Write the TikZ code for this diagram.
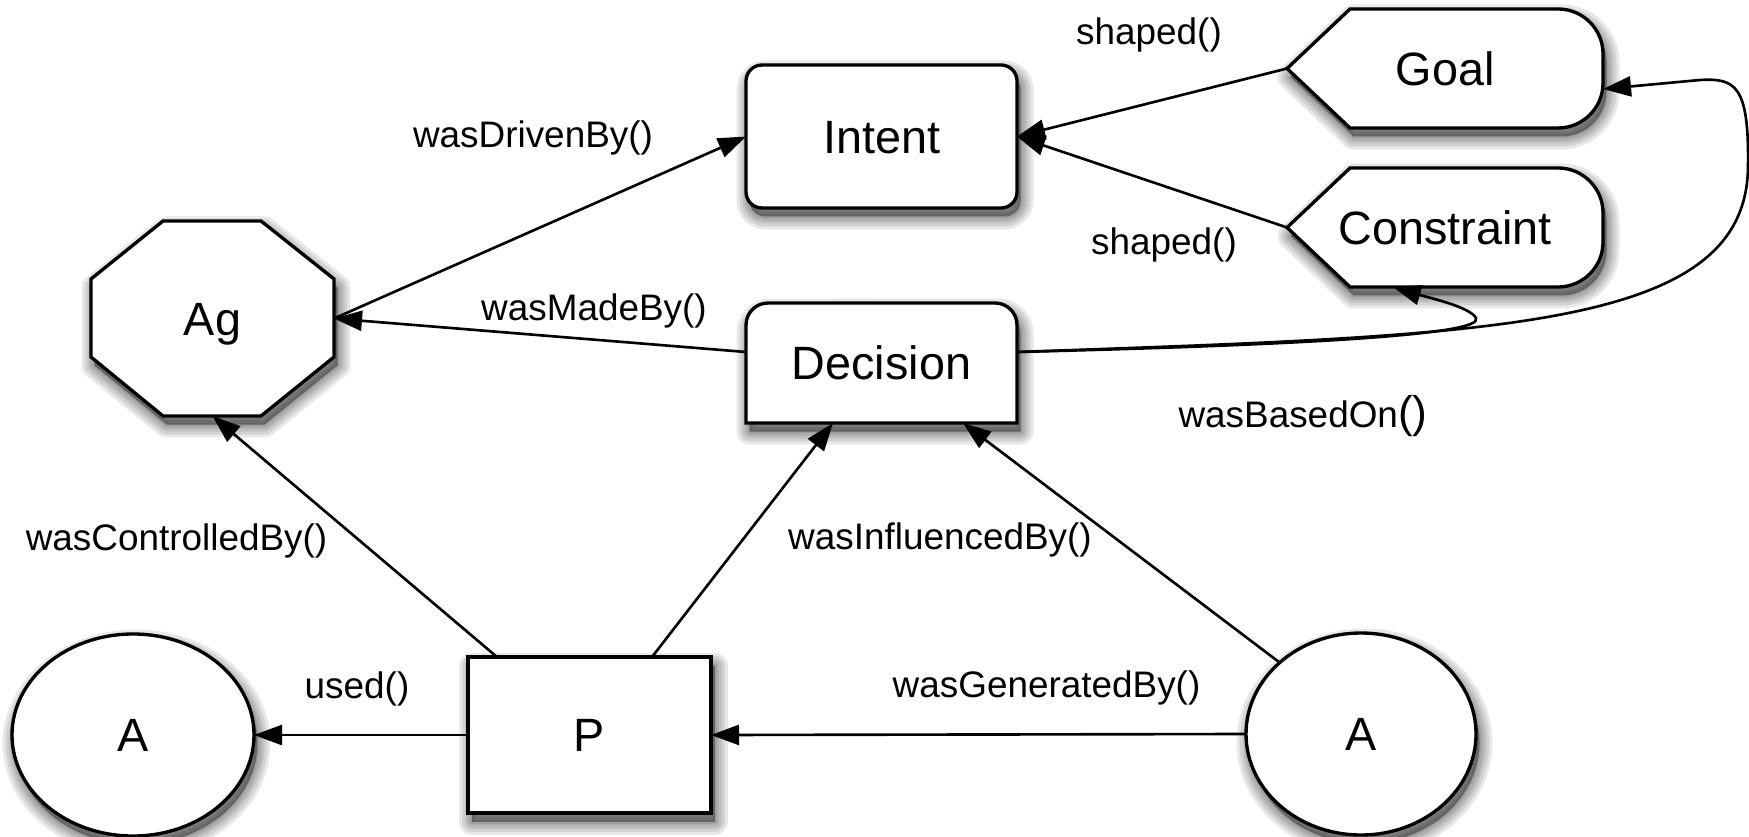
\documentclass[tikz,border=0pt]{standalone}
\usepackage{fontspec}
\setmainfont{Liberation Sans}
\usetikzlibrary{arrows.meta,shapes.geometric}

\begin{document}
\begin{tikzpicture}[x=0.1mm,y=0.1mm,
  % one layer of the soft drop shadow
  shadowlayer/.style={preaction={draw=black, fill=black, opacity=0.09,
    line width=#1, line join=round,
    transform canvas={xshift=0.35mm, yshift=-0.85mm}}},
  softshadow/.style={shadowlayer=2.6mm, shadowlayer=2.0mm, shadowlayer=1.4mm,
    shadowlayer=0.9mm, shadowlayer=0.4mm},
  outline/.style={softshadow, draw=black, line width=0.95pt, fill=white},
  txt/.style={inner sep=0pt, outer sep=0pt,
    font=\fontsize{13.3pt}{16pt}\selectfont, text height=9.5pt, text depth=0pt},
  holder/.style={txt, draw=none, fill=none, rectangle},
  link/.style={line width=0.75pt, -{Triangle[length=2.8mm,width=2.0mm]}},
  lbl/.style={font=\fontsize{10.5pt}{12pt}\selectfont, anchor=base, inner sep=0pt}
]
\useasboundingbox (0,0) rectangle (1749,-837);

% ---- outlines of the custom-shaped nodes ----
% agent octagon
\draw[outline] (163,-221) -- (261,-221) -- (334,-279) -- (334,-357)
  -- (261,-416) -- (163,-416) -- (91,-357) -- (91,-279) -- cycle;
% decision box: rounded top, square bottom
\draw[outline] (746,-423) -- (746,-325) arc[start angle=180,end angle=90,radius=2.2mm]
  -- (995,-303) arc[start angle=90,end angle=0,radius=2.2mm] -- (1017,-423) -- cycle;
% goal and constraint tags
\draw[outline] (1287,-68.5) -- (1350,-9) -- (1558,-9)
  arc[start angle=90,end angle=0,radius=4.5mm] -- (1603,-83)
  arc[start angle=0,end angle=-90,radius=4.5mm] -- (1350,-128) -- cycle;
\draw[outline] (1287,-227.5) -- (1350,-168) -- (1558,-168)
  arc[start angle=90,end angle=0,radius=4.5mm] -- (1603,-242)
  arc[start angle=0,end angle=-90,radius=4.5mm] -- (1350,-287) -- cycle;

% ---- nodes ----
\node[holder, minimum width=24.3mm, minimum height=19.5mm] (Ag) at (212.5,-318.5) {Ag};
\node[holder, minimum width=27.1mm, minimum height=12mm] (Decision) at (881.5,-363) {Decision};
\node[holder, minimum width=31.6mm, minimum height=11.9mm] (Goal) at (1445,-68.5) {Goal};
\node[holder, minimum width=31.6mm, minimum height=11.9mm] (Constraint) at (1445,-227.5) {Constraint};
\node[txt, outline, rectangle, rounded corners=1.6mm, minimum width=27.1mm,
      minimum height=14.3mm] (Intent) at (881.5,-136.5) {Intent};
\node[txt, outline, rectangle, minimum width=24.3mm, minimum height=15.6mm] (P) at (589.5,-735) {P};
\node[txt, outline, ellipse, minimum width=24.2mm, minimum height=20.2mm] (A1) at (133,-735) {A};
\node[txt, outline, ellipse, minimum width=23mm, minimum height=20.2mm] (A2) at (1361,-734) {A};

% ---- connectors ----
\draw[link] (Ag.east) -- (Intent.west);
\draw[link] ([yshift=1.1mm]Decision.west) -- (Ag.east);
\draw[link] (Goal.west) -- (Intent.east);
\draw[link] (Constraint.west) -- (Intent.east);
\draw[link] ([yshift=1.1mm]Decision.east) .. controls (1500,-335) and (1748,-330) .. (1748,-165)
  .. controls (1749,-85) and (1735,-78) .. (1700,-80) -- ([yshift=-2.05mm]Goal.east);
\draw[link] ([yshift=1.1mm]Decision.east) .. controls (1300,-345) and (1485,-335) .. (1476,-318)
  .. controls (1470,-307) and (1430,-298) .. ([xshift=-5.2mm]Constraint.south);
\draw[link] ([xshift=2.9mm]P.north west) -- (Ag.south);
\draw[link] ([xshift=-5.9mm]P.north east) -- ([xshift=-4.85mm]Decision.south);
\draw[link] (A2.north west) -- ([xshift=-5.4mm]Decision.south east);
\draw[link] (P.west) -- (A1.east);
\draw[link] (A2.west) -- (P.east);

% ---- connector labels ----
\node[lbl] (lshapedg) at (1149,-45) {shaped()};
\node[lbl] (lshapedc) at (1164,-255) {shaped()};
\node[lbl] (ldriven) at (533,-148) {wasDrivenBy()};
\node[lbl] (lmade) at (594,-320) {wasMadeBy()};
\node[lbl] (lbased) at (1303,-427) {wasBasedOn{\fontsize{12.6pt}{14pt}\selectfont()}};
\node[lbl] (lcontrolled) at (176.5,-550) {wasControlledBy()};
\node[lbl] (linfluenced) at (940,-549) {wasInfluencedBy()};
\node[lbl] (lgenerated) at (1046.5,-697) {wasGeneratedBy()};
\node[lbl] (lused) at (357,-698) {used()};
\end{tikzpicture}
\end{document}
